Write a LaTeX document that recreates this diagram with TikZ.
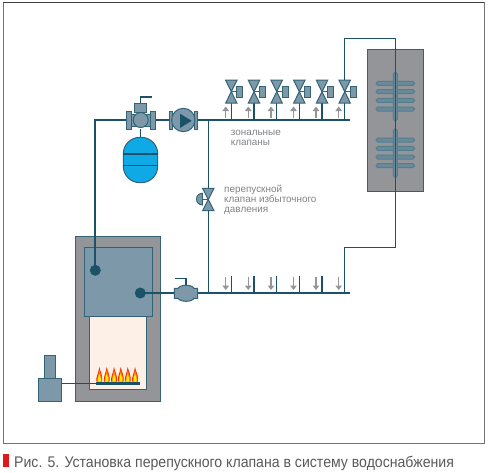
\documentclass[tikz,border=0pt]{standalone}
\usepackage{fontspec}
\setmainfont{Liberation Sans}
\newfontfamily\capfont[FakeStretch=0.915]{Liberation Sans}
\usetikzlibrary{arrows.meta,calc}
\definecolor{pipecol}{HTML}{1B5268}
\definecolor{bodycol}{HTML}{7D98A8}
\definecolor{shellcol}{HTML}{939598}
\definecolor{textcol}{HTML}{808285}
\definecolor{tankcol}{HTML}{0FA9E6}
\definecolor{firecol}{HTML}{FDF0E7}
\tikzset{
  pipe/.style={pipecol,line width=1.5},
  thinpipe/.style={pipecol,line width=0.9},
  part/.style={draw=pipecol!90!white,fill=bodycol,line width=1},
  flowarrow/.style={-{Triangle[length=4.5,width=6.5]},shellcol,line width=1.4},
  label/.style={font=\fontsize{9.9}{10}\selectfont,text=textcol,anchor=base west,inner sep=0,align=left},
  bowtie/.pic={\draw[part] (-5.7,-11.5)--(5.7,-11.5)--(-5.7,11.5)--(5.7,11.5)--cycle;},
  flame/.pic={
    \fill[#1] (-2.8,0) .. controls (-3.6,-5) and (-0.8,-8) .. (0,-14.7)
      .. controls (0.8,-10) and (3.6,-7) .. (2.8,0) -- cycle;},
  capsule/.style={draw=pipecol!75!white,fill=bodycol!80!pipecol,line width=1,rounded corners=1.9}
}
\begin{document}
\begin{tikzpicture}[x=1pt,y=-1pt,>=Stealth]
  \useasboundingbox (0,0) rectangle (489,472);
  % frame and caption
  \draw[gray!90!black,line width=1] (3,2.5) rectangle (484,443);
  \draw[black!75,line width=1] (3,2.5)--(484,2.5);
  \fill[red!85!black!90!white] (3.3,454) rectangle (9,466.7);
  \node[font=\capfont\fontsize{15.4}{16}\selectfont,text=black!65,anchor=base west,inner sep=0] (caption) at (14,467)
    {Рис. 5. Установка перепускного клапана в систему водоснабжения};
  % boiler
  \draw[part,fill=shellcol] (75.7,236.7) rectangle (160.7,401);
  \draw[part,fill=firecol] (89.7,316) rectangle (146.7,389.3);
  \draw[part] (84,247.7) rectangle (152.3,316);
  % burner
  \draw[part] (44.3,355.7) rectangle (55.7,378);
  \draw[part] (38.3,378) rectangle (61.7,401);
  \draw[pipe,line width=1.2] (61.7,383.7)--(95.7,383.7);
  \foreach \fx in {99.3,106.7,114,120.7,127.7,135}{
    \pic at (\fx,381.7) {flame={red!75!orange}};
    \pic[scale=0.8] at (\fx,381.7) {flame={orange}};
    \pic[scale=0.55] at (\fx,381.7) {flame={yellow}};
  }
  \fill[pipecol] (95.7,382) rectangle (140.3,385.3);
  % supply pipe with pump and expansion tank
  \draw[pipe,line width=2] (95.3,270.3)--(95.3,120)--(127,120);
  \fill[pipecol] (95.3,270.3) circle (5.5);
  \draw[pipe] (155,120)--(169,120) (197.7,120)--(350,120);
  \draw[pipe] (140.7,129)--(140.7,137.3);
  \draw[part,fill=tankcol,rounded corners=16.5] (123.3,137.3) rectangle (157.7,182.7);
  \draw[pipe,line width=1.1] (123.3,154)--(157.7,154) (123.3,165.3)--(157.7,165.3);
  % three way valve
  \draw[pipe] (140.7,103.3)--(140.7,97)--(151.7,97);
  \draw[part] (134.3,103.3) rectangle (146,112);
  \draw[part] (131.7,114) rectangle (150,126.7);
  \draw[part] (126.7,111.7) rectangle (131.7,129);
  \draw[part] (150,111.7) rectangle (155,129);
  \draw[part] (140.7,120) circle (7.5);
  % pump
  \draw[part] (169,111) rectangle (172.3,129.3);
  \draw[part] (194,111) rectangle (197.7,129.3);
  \draw[pipe] (172.3,120)--(194,120);
  \draw[part] (183.3,120) circle (11.7);
  \fill[pipecol] (180,113.7)--(191.7,120.8)--(180,128)--cycle;
  % zone valves
  \foreach \vx/\ax in {231.3/225.7,254/248.3,276.7/271,299.3/293.5,322/316,344.7/338.7}{
    \draw[pipe] (\vx,120)--(\vx,103);
    \draw[flowarrow] (\ax,118)--(\ax,106.5);
    \draw[part] (\vx,91.7)--(\vx+6,91.7);
    \draw[part] (\vx+5.3,86) rectangle (\vx+11.3,97.3);
    \pic at (\vx,91.7) {bowtie};
    % return side
    \draw[pipe] (\vx,293)--(\vx,276);
    \draw[flowarrow] (\ax,276.5)--(\ax,290);
  }
  \node[label] (zonelabel) at (230.7,135.5) {зональные};
  \node[label] (zonelabeltwo) at (230.7,145.3) {клапаны};
  % bypass
  \draw[pipe] (208.3,120)--(208.3,293);
  \draw[part] (208.3,199.5)--(200,199.5);
  \draw[part] (202.3,193.3) arc (270:90:5.8) -- cycle;
  \pic[yscale=0.97] at (208.3,199.5) {bowtie};
  \node[label] (bypassa) at (224,192) {перепускной};
  \node[label] (bypassb) at (224,202) {клапан избыточного};
  \node[label] (bypassc) at (224,212) {давления};
  % return pipe and its valve
  \draw[pipe,line width=2] (140.3,293)--(174.3,293);
  \draw[pipe] (197.7,293)--(350,293);
  \fill[pipecol] (140.3,293) circle (5.5);
  \draw[pipe] (186,285)--(186,278.7)--(175,278.7);
  \draw[part] (174.3,288.3)--(178,288.3) .. controls (180,284.3) and (192,284.3) .. (194,288.3)
    --(197.7,288.3)--(197.7,298.3)--(194,298.3) .. controls (192,302.3) and (180,302.3) .. (178,298.3)
    --(174.3,298.3)--cycle;
  % hot water tank
  \draw[part,fill=shellcol] (367.3,49.3) rectangle (423.7,191.3);
  \foreach \cy in {83.3,91.7,100.3,109,140,148.3,157,165.7}{
    \draw[capsule] (376,\cy-2) rectangle (414.7,\cy+2);
  }
  \foreach \gy in {72,128.7}{
    \draw[capsule] (393.3,\gy) rectangle (397.3,\gy+49);
  }
  \draw[thinpipe] (344.7,80)--(344.7,38)--(395.3,38)--(395.3,247.7)--(344.7,247.7)--(344.7,293);
\end{tikzpicture}
\end{document}
